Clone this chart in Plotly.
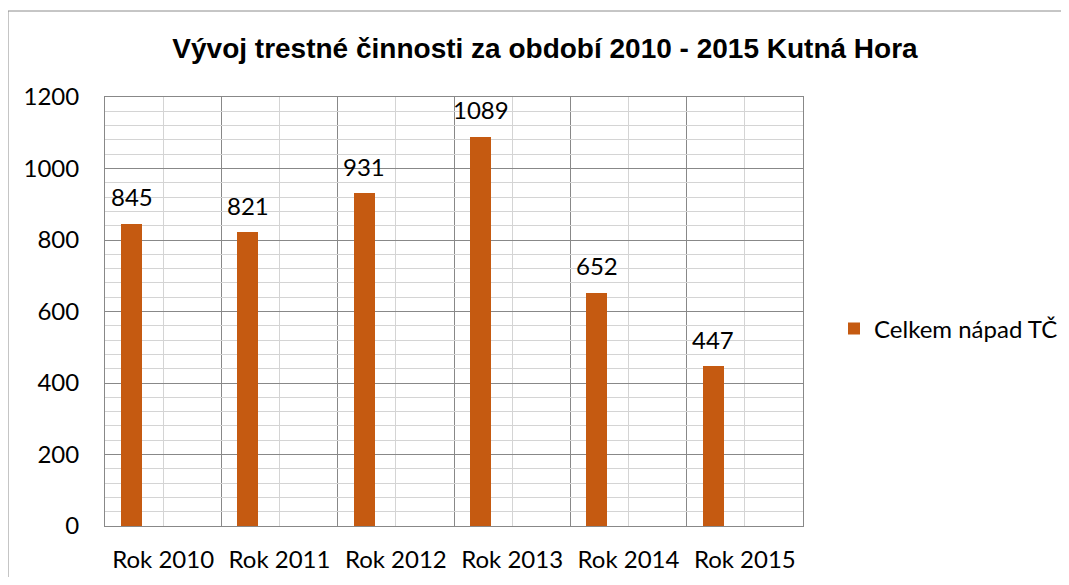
import plotly.graph_objects as go

categories = ["Rok 2010", "Rok 2011", "Rok 2012", "Rok 2013", "Rok 2014", "Rok 2015"]
values = [845, 821, 931, 1089, 652, 447]
series_name = "Celkem nápad TČ"
title = "Vývoj trestné činnosti za období 2010 - 2015 Kutná Hora"

# page body has an 8px margin on every side; work in reference pixel coords and shift
OFF = 8
W, H = 1069 - 2 * OFF, 585 - 2 * OFF
L, R, T, B = 105 - OFF, 803 - OFF, 97 - OFF, 526 - OFF

def px_x(p):
    return (p - OFF - L) / (R - L)

def px_y(p):
    return (B - (p - OFF)) / (B - T)

FONT = "Lato, Open Sans, sans-serif"
BAR_W, BAR_OFF = 0.18, -0.362
xs = list(range(len(categories)))

fig = go.Figure()
fig.add_trace(go.Bar(
    x=xs, y=values, name=series_name,
    marker=dict(color="#C55A11", line=dict(width=0)),
    width=BAR_W, offset=BAR_OFF,
    showlegend=True,
))

for xi, v in zip(xs, values):
    fig.add_annotation(x=xi + BAR_OFF + BAR_W / 2, y=v, text=str(v), showarrow=False,
                       xanchor="center", yanchor="middle", yshift=27,
                       font=dict(family=FONT, size=24, color="#000000"))

fig.update_layout(
    width=W, height=H,
    margin=dict(l=L, r=W - R, t=T, b=H - B, autoexpand=False),
    paper_bgcolor="white", plot_bgcolor="white",
    title=dict(text="<b>" + title + "</b>", x=(545 - OFF) / W, xanchor="center",
               y=1 - (48 - OFF) / H, yanchor="middle",
               font=dict(family="Liberation Sans, Arial, sans-serif", size=28, color="#000000")),
    legend=dict(x=px_x(834), y=px_y(329), xanchor="left", yanchor="middle",
                font=dict(family=FONT, size=24, color="#000000"),
                itemwidth=30, bgcolor="rgba(0,0,0,0)"),
    bargap=0,
)

fig.update_xaxes(
    range=[-0.5, len(categories) - 0.5],
    tickmode="array", tickvals=xs, ticktext=categories,
    showgrid=True, gridcolor="#D4D4D4", gridwidth=1,
    minor=dict(tickmode="linear", tick0=-0.5, dtick=1, showgrid=True, gridcolor="#888888", gridwidth=1, ticks=""),
    ticks="", ticklabelstandoff=12, automargin=False,
    tickfont=dict(family=FONT, size=24, color="#000000"),
    showline=True, linecolor="#888888", linewidth=1, mirror=True,
    zeroline=False, fixedrange=True,
)
fig.update_yaxes(
    range=[0, 1200], dtick=200, tick0=0,
    showgrid=True, gridcolor="#888888", gridwidth=1,
    minor=dict(dtick=40, showgrid=True, gridcolor="#D4D4D4", gridwidth=1, ticks=""),
    ticks="", ticklabelstandoff=20, automargin=False,
    tickfont=dict(family=FONT, size=24, color="#000000"),
    showline=True, linecolor="#888888", linewidth=1, mirror=True,
    zeroline=False, fixedrange=True,
)

fig.add_shape(type="rect", xref="paper", yref="paper",
              x0=px_x(8), x1=px_x(1120), y0=px_y(620), y1=px_y(11),
              line=dict(color="#8C8C8C", width=1), fillcolor="rgba(0,0,0,0)", layer="below")

fig.write_html("out.html")
